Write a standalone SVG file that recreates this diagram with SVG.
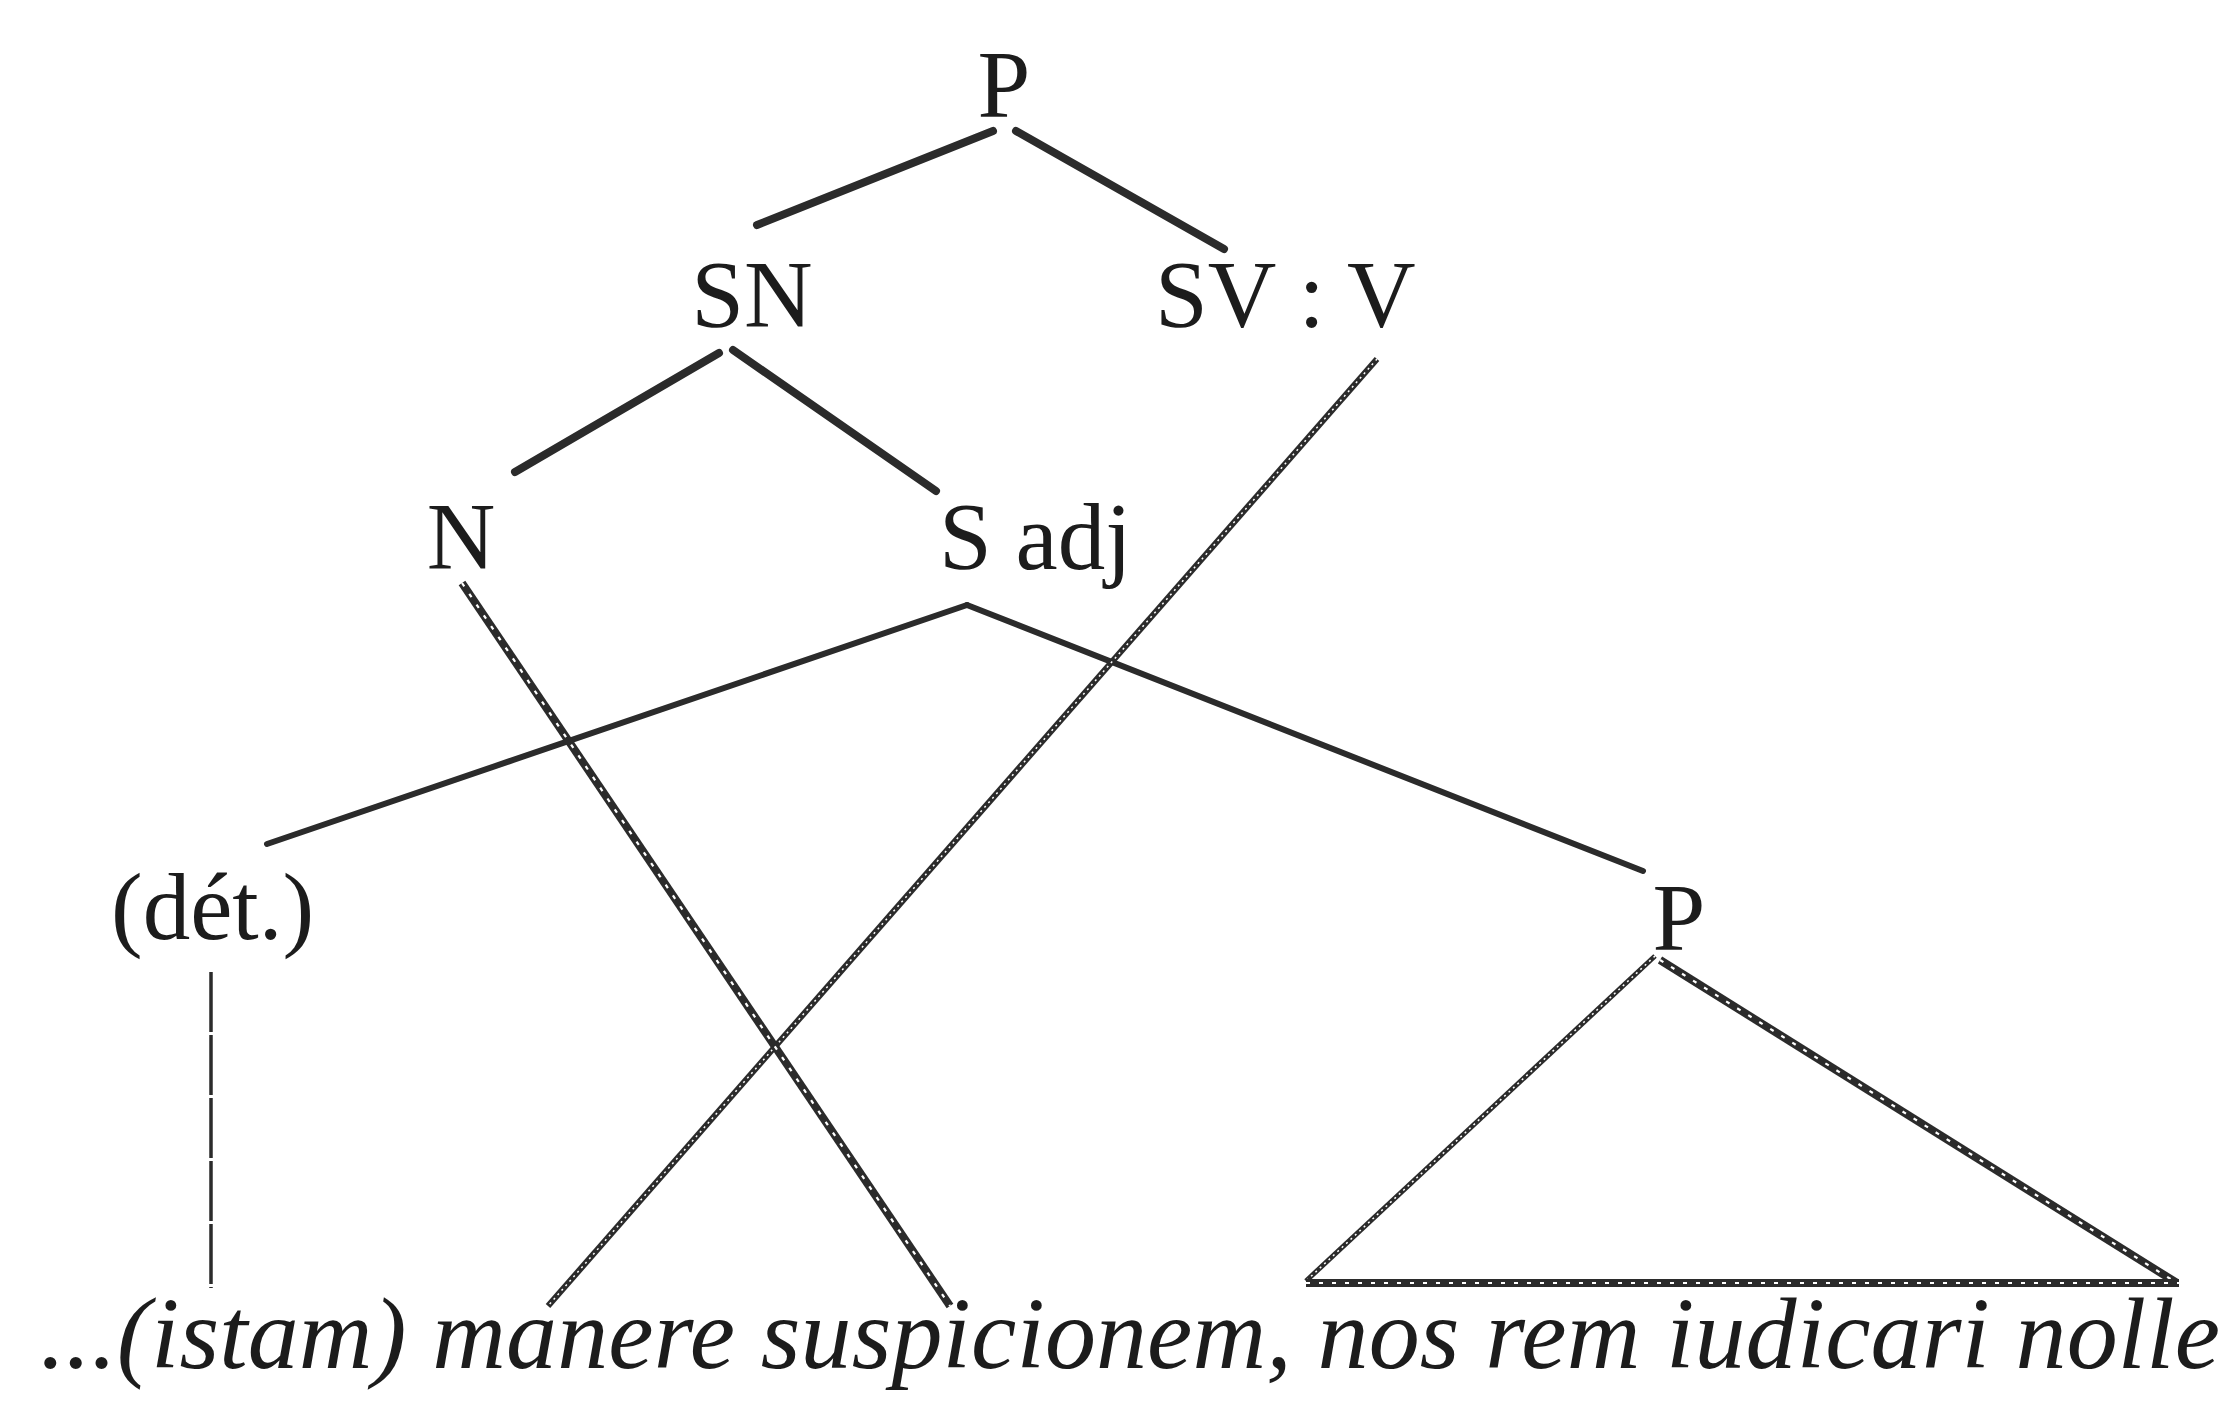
<svg xmlns="http://www.w3.org/2000/svg" width="2231" height="1404" viewBox="0 0 2231 1404">
<style>
.lbl{font-family:"Liberation Serif","Times New Roman",serif;font-size:95px;fill:#1c1c1c}
.it{font-family:"Liberation Serif","Times New Roman",serif;font-style:italic;font-size:102px;fill:#1c1c1c}
.solid{stroke:#2b2b2b;stroke-width:8;stroke-linecap:round;fill:none}
.thin{stroke:#2b2b2b;stroke-width:6;stroke-linecap:round;fill:none}
.hatch{stroke:#2b2b2b;stroke-width:6;fill:none}
.hatch-in{stroke:#ffffff;stroke-width:1.5;stroke-dasharray:2 4;fill:none}
.hatch2{stroke:#2b2b2b;stroke-width:5;fill:none}
.dash{stroke:#2b2b2b;stroke-width:8;fill:none}
.dash-in{stroke:#ffffff;stroke-width:2.2;stroke-dasharray:4 9;fill:none}
.vdash{stroke:#2b2b2b;stroke-width:3.5;stroke-dasharray:60 3;fill:none}
</style>
<rect width="2231" height="1404" fill="#ffffff"/>
<g id="connectors">
<line class="solid" x1="993" y1="131" x2="757" y2="225"/>
<line class="solid" x1="1016" y1="131" x2="1224" y2="249"/>
<line class="solid" x1="719" y1="353" x2="515" y2="472"/>
<line class="solid" x1="733" y1="350" x2="936" y2="491"/>
<line class="thin" x1="967" y1="605" x2="267" y2="844"/>
<line class="thin" x1="967" y1="605" x2="1643" y2="871"/>
<line class="hatch" x1="1377" y1="359" x2="548" y2="1306"/>
<line class="hatch-in" x1="1377" y1="359" x2="548" y2="1306"/>
<line class="dash" x1="462" y1="583" x2="950" y2="1306"/>
<line class="dash-in" x1="462" y1="583" x2="950" y2="1306"/>
<line class="vdash" x1="211" y1="972" x2="211" y2="1288"/>
<line class="hatch2" x1="1655" y1="956" x2="1306" y2="1281"/>
<line class="hatch-in" x1="1655" y1="956" x2="1306" y2="1281"/>
<line class="dash" x1="1660" y1="960" x2="2177" y2="1283"/>
<line class="dash-in" x1="1660" y1="960" x2="2177" y2="1283"/>
<line class="dash" x1="1306" y1="1283" x2="2179" y2="1283"/>
<line class="dash-in" x1="1306" y1="1283" x2="2179" y2="1283"/>
</g>
<g id="node-P"><text class="lbl" x="1004" y="117" text-anchor="middle">P</text></g>
<g id="node-SN"><text class="lbl" x="752" y="327" text-anchor="middle">SN</text></g>
<g id="node-SV"><text class="lbl" x="1155" y="327">SV : V</text></g>
<g id="node-N"><text class="lbl" x="461" y="569" text-anchor="middle">N</text></g>
<g id="node-Sadj"><text class="lbl" x="939" y="569">S adj</text></g>
<g id="node-det"><text class="lbl" x="111" y="939">(dét.)</text></g>
<g id="node-P2"><text class="lbl" x="1679" y="950" text-anchor="middle">P</text></g>
<g id="sentence"><text class="it" x="40" y="1368" textLength="2180" lengthAdjust="spacing">...(istam) manere suspicionem, nos rem iudicari nolle</text></g>
</svg>
